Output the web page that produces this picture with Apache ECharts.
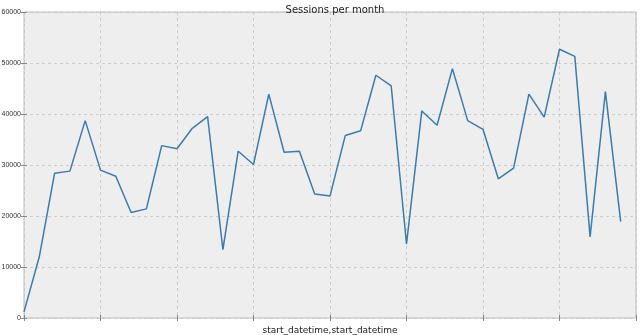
<!DOCTYPE html>
<html><head><meta charset="utf-8">
<script src="https://cdn.jsdelivr.net/npm/echarts@6/dist/echarts.min.js"></script>
<style>html,body{margin:0;padding:0;background:#fff}#c{width:640px;height:335px}</style>
</head><body><div id="c"></div>
<script>
var monthIndex = [0,1,2,3,4,5,6,7,8,9,10,11,12,13,14,15,16,17,18,19,20,21,22,23,24,25,26,27,28,29,30,31,32,33,34,35,36,37,38,39];
var sessions = [1200,12000,28400,28800,38700,29000,27800,20700,21400,33800,33200,37200,39500,13400,32700,30100,43900,32500,32700,24300,23900,35800,36700,47600,45500,14500,40600,37800,48900,38700,37000,27300,29400,43900,39400,52700,51300,15900,44400,18900];
var yTicks = [0,10000,20000,30000,40000,50000,60000];
var titleText = 'Sessions per month';
var xName = 'start_datetime,start_datetime';

var chart = echarts.init(document.getElementById('c'), null, {renderer:'canvas'});
var gridDash = {show:true, lineStyle:{color:'#c4c4c4', type:[3,3], width:0.8}};
chart.setOption({
  animation:false,
  backgroundColor:'#ffffff',
  title:{text:titleText, left:330, top:0, textAlign:'center',
    textStyle:{fontSize:10, fontWeight:'normal', color:'#222', fontFamily:'DejaVu Sans'}},
  grid:{left:24, top:12, right:4, bottom:17, containLabel:false, outerBoundsMode:'none',
    show:true, backgroundColor:'#eeeeee', borderColor:'#bcbcbc', borderWidth:1},
  xAxis:[{
    type:'value', min:0, max:40, interval:5,
    axisLine:{show:false},
    axisTick:{show:true, inside:true, length:3, lineStyle:{color:'#888'}},
    axisLabel:{show:false},
    splitLine:gridDash,
    name:xName, nameLocation:'middle', nameGap:8,
    nameTextStyle:{fontSize:9, color:'#222', fontFamily:'DejaVu Sans'}
  },{
    type:'value', position:'top', min:0, max:40, interval:5,
    axisLine:{show:false},
    axisTick:{show:true, inside:true, length:3, lineStyle:{color:'#888'}},
    axisLabel:{show:false}, splitLine:{show:false}
  }],
  yAxis:[{
    type:'value', min:yTicks[0], max:yTicks[yTicks.length-1], interval:10000,
    axisLine:{show:false},
    axisTick:{show:true, inside:true, length:3, lineStyle:{color:'#888'}},
    axisLabel:{fontSize:7, color:'#333', margin:3, fontFamily:'Liberation Sans',
      formatter:function(v){return yTicks.indexOf(v)>=0 ? String(v) : '';}},
    splitLine:gridDash
  },{
    type:'value', position:'right', min:0, max:60000, interval:10000,
    axisLine:{show:false},
    axisTick:{show:true, inside:true, length:3, lineStyle:{color:'#888'}},
    axisLabel:{show:false}, splitLine:{show:false}
  }],
  series:[{
    type:'line', xAxisIndex:0, yAxisIndex:0,
    data: monthIndex.map(function(m,i){return [m, sessions[i]];}),
    showSymbol:false, symbol:'none',
    lineStyle:{color:'#3d7bab', width:1.5},
    itemStyle:{color:'#3d7bab'}
  }]
});
</script></body></html>
